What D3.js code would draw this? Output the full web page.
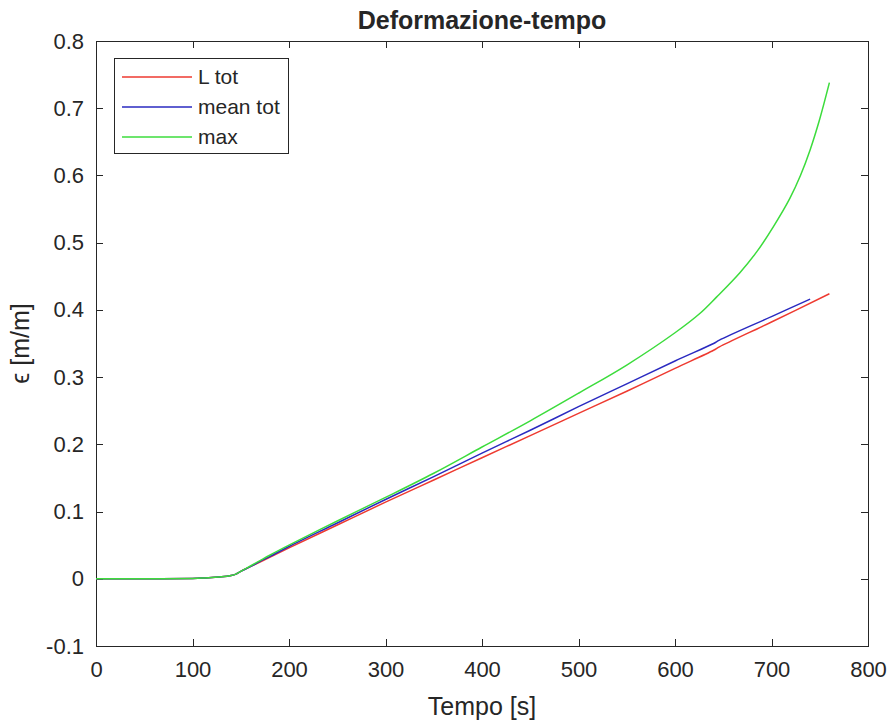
<!DOCTYPE html>
<html>
  <head>
    <meta charset="utf-8">
    <script src="https://cdnjs.cloudflare.com/ajax/libs/d3/7.8.5/d3.min.js"></script>
    <style type="text/css">
    body { margin: 0; background: #fff; }
    svg text { font-family: "Liberation Sans", Arial, sans-serif; fill: #262626; }
    .axis path, .axis line { stroke: #262626; fill: none; shape-rendering: crispEdges; }
    </style>
  </head>
  <body>
    <script type="text/javascript">
      // data
      var tLtot = [0, 50, 100, 110, 120, 130, 140, 145, 150, 160, 170, 180, 200, 250, 300, 350, 400, 450, 500, 550, 600, 640, 646, 700, 760];
      var Ltot  = [0, 0, 0.0005, 0.001, 0.002, 0.003, 0.005, 0.007, 0.011, 0.018, 0.025, 0.032, 0.046, 0.080, 0.114, 0.147, 0.180, 0.213, 0.246, 0.279, 0.313, 0.340, 0.345, 0.382, 0.424];

      var tMean   = [0, 50, 100, 110, 120, 130, 140, 145, 150, 160, 170, 180, 200, 250, 300, 350, 400, 450, 500, 550, 600, 640, 646, 700, 740];
      var meanTot = [0, 0, 0.0005, 0.001, 0.002, 0.003, 0.005, 0.007, 0.011, 0.018, 0.026, 0.033, 0.048, 0.083, 0.118, 0.152, 0.187, 0.221, 0.256, 0.290, 0.324, 0.350, 0.355, 0.390, 0.416];

      var tMax = [0, 50, 100, 110, 120, 130, 140, 145, 150, 160, 170, 180, 200, 250, 300, 350, 400, 450, 500, 550, 600, 626, 643, 667, 685, 702, 719, 730, 740, 750, 760];
      var maxE = [0, 0, 0.0005, 0.001, 0.002, 0.003, 0.005, 0.007, 0.011, 0.019, 0.027, 0.035, 0.050, 0.086, 0.121, 0.157, 0.196, 0.235, 0.276, 0.318, 0.366, 0.395, 0.419, 0.455, 0.487, 0.524, 0.566, 0.600, 0.638, 0.684, 0.738];

      var xTicks = [0, 100, 200, 300, 400, 500, 600, 700, 800];
      var yTicks = [-0.1, 0, 0.1, 0.2, 0.3, 0.4, 0.5, 0.6, 0.7, 0.8];

      var w = 893, h = 726;
      // plot box (note: "top" is reserved on window, so use mTop etc.)
      var mLeft = 96, mRight = 868, mTop = 41, mBottom = 646;

      var svg = d3.select("body").append("svg")
                  .attr("width", w)
                  .attr("height", h);

      var x = d3.scaleLinear().domain([0, 800]).range([mLeft, mRight]);
      var y = d3.scaleLinear().domain([-0.1, 0.8]).range([mBottom, mTop]);

      // axes, ticks inward on all four sides
      var gx = svg.append("g").attr("class", "axis")
         .attr("transform", "translate(0," + mBottom + ")")
         .call(d3.axisBottom(x).tickValues(xTicks).tickSizeInner(-7).tickSizeOuter(0).tickPadding(15).tickFormat(d3.format("d")));
      gx.selectAll("text").style("font-size", "22px").attr("fill", "#262626");

      svg.append("g").attr("class", "axis")
         .attr("transform", "translate(0," + mTop + ")")
         .call(d3.axisTop(x).tickValues(xTicks).tickSizeInner(-7).tickSizeOuter(0).tickFormat(""));

      var gy = svg.append("g").attr("class", "axis")
         .attr("transform", "translate(" + mLeft + ",0)")
         .call(d3.axisLeft(y).tickValues(yTicks).tickSizeInner(-7).tickSizeOuter(0).tickPadding(12)
               .tickFormat(function(d) { return Math.abs(d) < 1e-9 ? "0" : d3.format(".1f")(d).replace("\u2212", "-"); }));
      gy.selectAll("text").style("font-size", "22px").attr("fill", "#262626");

      svg.append("g").attr("class", "axis")
         .attr("transform", "translate(" + mRight + ",0)")
         .call(d3.axisRight(y).tickValues(yTicks).tickSizeInner(-7).tickSizeOuter(0).tickFormat(""));

      svg.selectAll(".axis .domain").remove();
      svg.append("rect")
         .attr("x", mLeft).attr("y", mTop)
         .attr("width", mRight - mLeft).attr("height", mBottom - mTop)
         .attr("fill", "none").attr("stroke", "#262626").attr("stroke-width", 1)
         .style("shape-rendering", "crispEdges");

      // title and labels
      svg.append("text")
         .attr("x", (mLeft + mRight) / 2).attr("y", 29)
         .attr("text-anchor", "middle")
         .style("font-size", "25px").style("font-weight", "bold")
         .attr("fill", "#000")
         .text("Deformazione-tempo");
      svg.append("text")
         .attr("x", (mLeft + mRight) / 2).attr("y", 715)
         .attr("text-anchor", "middle")
         .style("font-size", "25px")
         .text("Tempo [s]");
      svg.append("text")
         .attr("transform", "translate(29," + ((mTop + mBottom) / 2) + ") rotate(-90)")
         .attr("text-anchor", "middle")
         .style("font-size", "25px")
         .text("\u03F5 [m/m]");

      // lines
      var series = [
        { name: "L tot",    t: tLtot, v: Ltot,    color: "#ee3a30" },
        { name: "mean tot", t: tMean, v: meanTot, color: "#2a2ac0" },
        { name: "max",      t: tMax,  v: maxE,    color: "#3cdc3c" }
      ];

      var line = d3.line()
                   .x(function(d) { return x(d[0]); })
                   .y(function(d) { return y(d[1]); })
                   .curve(d3.curveCatmullRom.alpha(0.5));

      series.forEach(function(s) {
        svg.append("path")
           .datum(d3.zip(s.t, s.v))
           .attr("fill", "none")
           .attr("stroke", s.color)
           .attr("stroke-width", 1.5)
           .attr("d", line);
      });

      // legend
      var lg = svg.append("g");
      lg.append("rect")
        .attr("x", 114).attr("y", 58)
        .attr("width", 174).attr("height", 95)
        .attr("fill", "#fff").attr("stroke", "#262626").attr("stroke-width", 1)
        .style("shape-rendering", "crispEdges");
      series.forEach(function(s, i) {
        var ly = 77 + i * 30;
        lg.append("line")
          .attr("x1", 122).attr("x2", 192)
          .attr("y1", ly).attr("y2", ly)
          .attr("stroke", s.color).attr("stroke-width", 1.5);
        lg.append("text")
          .attr("x", 198).attr("y", ly + 7)
          .style("font-size", "21px")
          .attr("fill", "#000")
          .text(s.name);
      });
    </script>
  </body>
</html>
